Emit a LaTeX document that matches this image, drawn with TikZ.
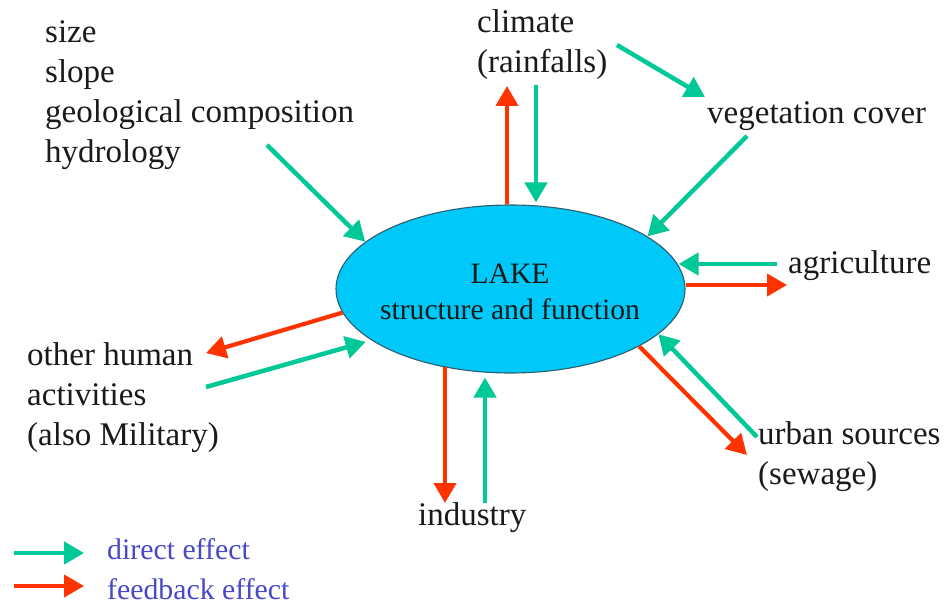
\documentclass[tikz,border=0pt]{standalone}
\usepackage{fontspec}
\setmainfont{Liberation Serif}
\usetikzlibrary{arrows.meta,shapes.geometric,calc}
\definecolor{dgreen}{HTML}{00C896}
\definecolor{fred}{HTML}{FF3300}
\definecolor{lakeblue}{HTML}{00C8F8}
\definecolor{lakeline}{HTML}{2E5E6E}
\definecolor{legblue}{HTML}{4848C8}
\definecolor{txt}{HTML}{1A1A1A}
\begin{document}
\begin{tikzpicture}[x=1pt,y=-1pt,
  direct/.style={draw=dgreen, line width=4.5pt, -{Triangle[length=20pt,width=22pt]}},
  feedback/.style={draw=fred, line width=4.2pt, -{Triangle[length=20pt,width=22pt]}},
  lbl/.style={anchor=base west, inner sep=0pt, text=txt, font=\fontsize{33}{40}\selectfont},
  leg/.style={anchor=base west, inner sep=0pt, text=legblue, font=\fontsize{29.8}{36}\selectfont},
  lakestyle/.style={ellipse, draw=lakeline, line width=1.1pt, fill=lakeblue,
    minimum width=349pt, minimum height=168pt, inner sep=0pt}]
\useasboundingbox[fill=white] (0,0) rectangle (946,607);

% lake
\node[lakestyle] (lake) at (510.5,289) {};
\node[align=center, inner sep=0pt, text=txt, font=\fontsize{29.6}{36}\selectfont]
  (laketext) at (510,292) {LAKE\\structure and function};

% labels
\node[lbl] (geo) at (45,43) {\vtop{\hbox{size}\hbox{slope}\hbox{geological composition}\hbox{hydrology}}};
\node[lbl] (clim) at (477,33) {\vtop{\hbox{climate}\hbox{(rainfalls)}}};
\node[lbl] (veg) at (707,124) {vegetation cover};
\node[lbl] (agri) at (788,273) {agriculture};
\node[lbl] (urban) at (758,444) {\vtop{\hbox{urban sources}\hbox{(sewage)}}};
\node[lbl] (ind) at (418,525) {industry};
\node[lbl] (oth) at (27,365) {\vtop{\hbox{other human}\hbox{activities}\hbox{(also Military)}}};

% arrow ends
\coordinate (hyS) at (267,145);
\coordinate (crE) at (507,86);
\coordinate (cgS) at (536,85);
\coordinate (cvS) at (617,45);
\coordinate (cvE) at (705,97);
\coordinate (vlS) at (747,136);
\coordinate (agG) at (777,264);
\coordinate (agR) at (787,285);
\coordinate (urR) at (747,455);
\coordinate (urG) at (757,437);
\coordinate (inR) at (445,503);
\coordinate (inG) at (485,503);
\coordinate (otR) at (206,353);
\coordinate (otG) at (206,387);

% connectors
\draw[direct] (hyS) -- (lake.162);
\draw[feedback] (crE |- lake.north) -- (crE);
\draw[direct] (cgS) -- ($(cgS |- lake.north)+(0,-2)$);
\draw[direct] (cvS) -- (cvE);
\draw[direct] (vlS) -- (lake.21);
\draw[direct] (agG) -- (agG -| lake.8.5);
\draw[feedback] (agR -| lake.east) -- (agR);
\draw[feedback] (lake.-24.6) -- (urR);
\draw[direct] (urG) -- (lake.-17.3);
\draw[feedback] (inR |- lake.229) -- (inR);
\draw[direct] (inG) -- ($(inG |- lake.south)+(0,4)$);
\draw[feedback] (lake.188.9) -- (otR);
\draw[direct] (otG) -- ($(lake.200.5)+(-5,2)$);

% legend
\coordinate (lgS) at (14,553);
\coordinate (lgE) at (84,553);
\coordinate (lfS) at (14,586);
\coordinate (lfE) at (84,586);
\draw[direct] (lgS) -- (lgE);
\draw[feedback] (lfS) -- (lfE);
\node[leg] (ldir) at (107,559) {direct effect};
\node[leg] (lfb) at (107,599) {feedback effect};
\end{tikzpicture}
\end{document}
